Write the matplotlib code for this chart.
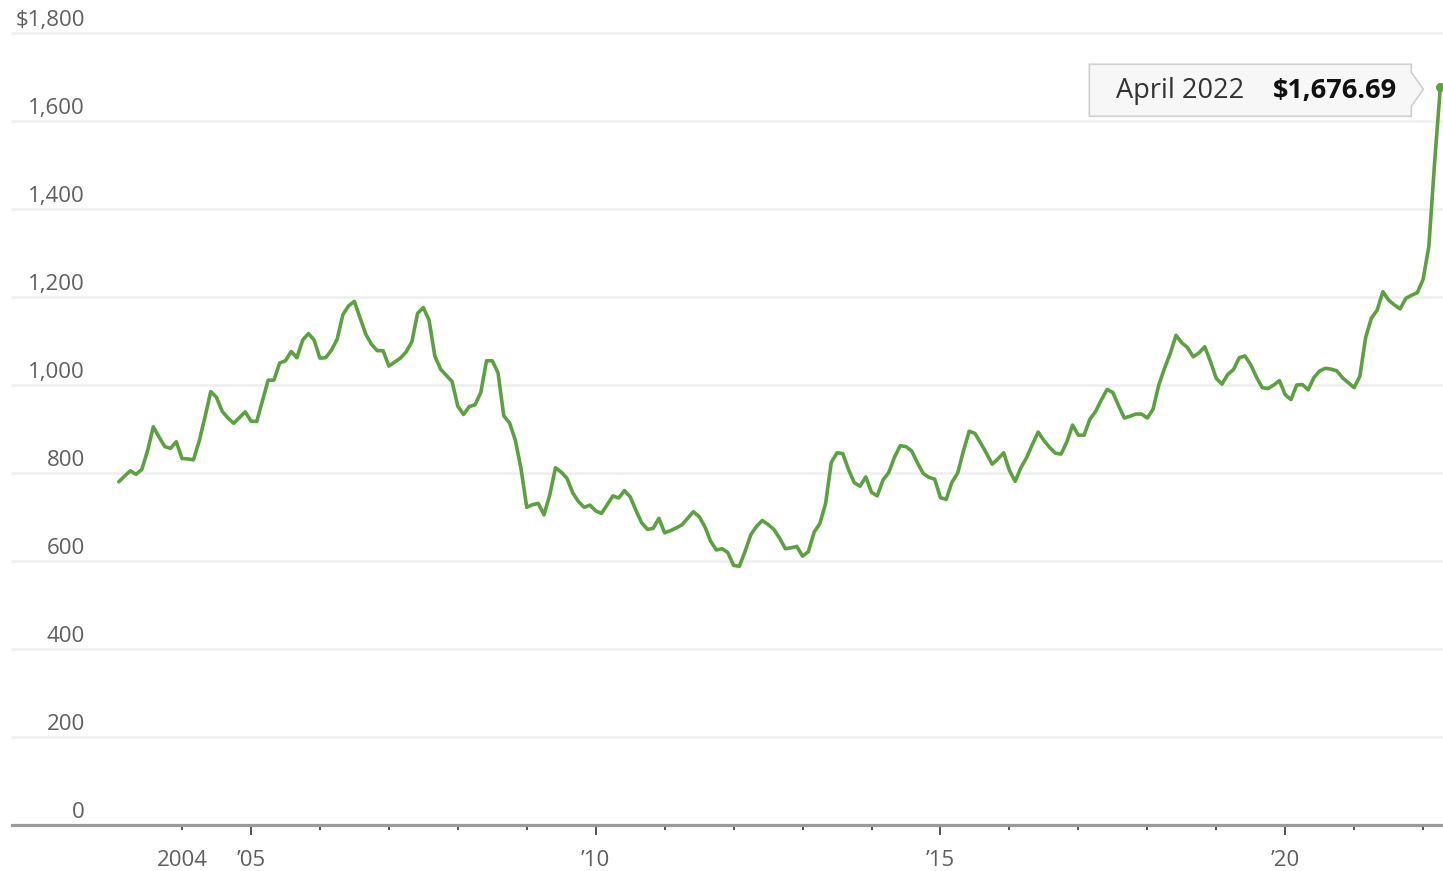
import matplotlib
matplotlib.use("Agg")
import matplotlib.pyplot as plt
import matplotlib.transforms as mtransforms
from matplotlib.patches import Polygon

plt.rcParams['font.family'] = ['Open Sans', 'DejaVu Sans']

# Monthly values, Feb 2003 - Apr 2022 (USD)
start_year, start_month = 2003, 2
values = [
    # 2003 (Feb-Dec)
    780, 793, 805, 797, 808, 850, 905, 882, 860, 856, 871,
    # 2004
    833, 832, 830, 873, 927, 985, 972, 940, 925, 913, 926, 939,
    # 2005
    918, 917, 964, 1011, 1011, 1050, 1055, 1076, 1062, 1102, 1117, 1102,
    # 2006
    1061, 1062, 1079, 1104, 1160, 1180, 1190, 1152, 1115, 1092, 1078, 1078,
    # 2007
    1043, 1052, 1061, 1075, 1098, 1163, 1176, 1147, 1066, 1036, 1022, 1008,
    # 2008
    952, 933, 951, 955, 983, 1055, 1055, 1028, 930, 914, 875, 810,
    # 2009
    722, 728, 731, 705, 750, 812, 802, 788, 755, 735, 722, 727,
    # 2010
    714, 708, 728, 748, 743, 760, 746, 715, 687, 672, 674, 697,
    # 2011
    664, 669, 675, 682, 697, 712, 701, 678, 645, 625, 628, 619,
    # 2012
    590, 588, 622, 660, 679, 692, 683, 672, 652, 628, 630, 633,
    # 2013
    611, 621, 665, 685, 730, 824, 846, 844, 808, 778, 770, 791,
    # 2014
    756, 748, 784, 801, 836, 862, 860, 850, 823, 799, 790, 786,
    # 2015
    744, 740, 779, 800, 850, 895, 890, 868, 845, 820, 832, 846,
    # 2016
    806, 781, 812, 835, 865, 893, 874, 858, 845, 843, 871, 909,
    # 2017
    886, 886, 922, 940, 966, 990, 983, 953, 925, 929, 934, 934,
    # 2018
    925, 945, 1000, 1038, 1072, 1113, 1096, 1085, 1064, 1073, 1087, 1053,
    # 2019
    1015, 1002, 1024, 1035, 1062, 1066, 1046, 1018, 994, 992, 1000, 1010,
    # 2020
    978, 967, 1000, 1001, 989, 1017, 1032, 1038, 1036, 1032, 1016, 1005,
    # 2021
    994, 1020, 1108, 1152, 1170, 1212, 1193, 1182, 1173, 1197, 1204, 1210,
    # 2022 (Jan-Apr)
    1240, 1315, 1505, 1676.69,
]

y_ticks = [0, 200, 400, 600, 800, 1000, 1200, 1400, 1600, 1800]
y_tick_labels = ['0', '200', '400', '600', '800', '1,000', '1,200', '1,400', '1,600', '$1,800']
x_label_years = [2004, 2005, 2010, 2015, 2020]
x_labels = ['2004', '\u201905', '\u201910', '\u201915', '\u201920']
major_tick_years = [2005, 2010, 2015, 2020]
all_tick_years = list(range(2004, 2023))
month_names = ['January', 'February', 'March', 'April', 'May', 'June', 'July',
               'August', 'September', 'October', 'November', 'December']

# positions (fractional years)
xs = []
for i in range(len(values)):
    m = start_month - 1 + i
    xs.append(start_year + m / 12.0)

W, H = 1443, 871
fig = plt.figure(figsize=(W / 100, H / 100), dpi=100)
ax = fig.add_axes([12 / W, (H - 825) / H, (W - 12) / W, 792 / H])

def px_to_year(px):
    return 2004 + (px - 182) / 68.95

ax.set_xlim(px_to_year(12), px_to_year(W))
ax.set_ylim(0, 1800)

for s in ['top', 'right', 'left']:
    ax.spines[s].set_visible(False)
ax.spines['bottom'].set_color('#9a9a9a')
ax.spines['bottom'].set_linewidth(2.3)
ax.spines['bottom'].set_zorder(3)

# grid
for v in y_ticks[1:]:
    ax.axhline(v, color='#efefef', linewidth=1.9, zorder=1, clip_on=False)

# y labels
ytrans = mtransforms.blended_transform_factory(ax.transAxes, ax.transData)
ytrans = ytrans + mtransforms.ScaledTranslation(0, 7 / 100, fig.dpi_scale_trans)
for v, lab in zip(y_ticks, y_tick_labels):
    ax.text((85 - 12) / (W - 12), v, lab, transform=ytrans, ha='right', va='baseline',
            fontsize=16, color='#5e5e5e', zorder=4)

ax.set_yticks([])

# x ticks
ax.set_xticks(major_tick_years)
ax.set_xticks([y for y in all_tick_years if y not in major_tick_years], minor=True)
ax.tick_params(axis='x', which='major', length=7, width=1.2, color='#333333',
               labelbottom=False, direction='out')
ax.tick_params(axis='x', which='minor', length=3.5, width=1.2, color='#333333',
               labelbottom=False, direction='out')

xtrans = mtransforms.blended_transform_factory(ax.transData, ax.transAxes)
xtrans = xtrans + mtransforms.ScaledTranslation(0, -41 / 100, fig.dpi_scale_trans)
for yr, lab in zip(x_label_years, x_labels):
    ax.text(yr, 0, lab, transform=xtrans, ha='center', va='baseline',
            fontsize=16, color='#5e5e5e')

# line
line_color = '#5ba140'
ax.plot(xs, values, color=line_color, linewidth=2.6, solid_joinstyle='round',
        solid_capstyle='round', zorder=5, clip_on=False)
ax.plot([xs[-1]], [values[-1]], 'o', color=line_color, markersize=5.5, zorder=6,
        clip_on=False)

# annotation box with pointer
last_m = start_month - 1 + len(values) - 1
last_label = f"{month_names[last_m % 12]} {start_year + last_m // 12}"
anchor = mtransforms.ScaledTranslation(xs[-1], values[-1], ax.transData)
ptrans = mtransforms.Affine2D().scale(1 / 100) + fig.dpi_scale_trans + anchor
verts = [(-351, 23), (-29, 23), (-29, 15), (-17, -2), (-29, -19), (-29, -29), (-351, -29)]
poly = Polygon(verts, closed=True, transform=ptrans, facecolor='#f7f7f7',
               edgecolor='#cfcfcf', linewidth=1.2, zorder=7, clip_on=False)
ax.add_patch(poly)
ax.annotate(last_label, xy=(xs[-1], values[-1]), xytext=(-324, -11),
            textcoords='offset pixels', ha='left', va='baseline',
            fontsize=19.5, color='#333333', zorder=8, annotation_clip=False)
ax.annotate(f"${values[-1]:,.2f}", xy=(xs[-1], values[-1]), xytext=(-43, -11),
            textcoords='offset pixels', ha='right', va='baseline',
            fontsize=19.5, fontweight='bold', color='#111111', zorder=8,
            annotation_clip=False)

fig.savefig('out.png', dpi=100)
